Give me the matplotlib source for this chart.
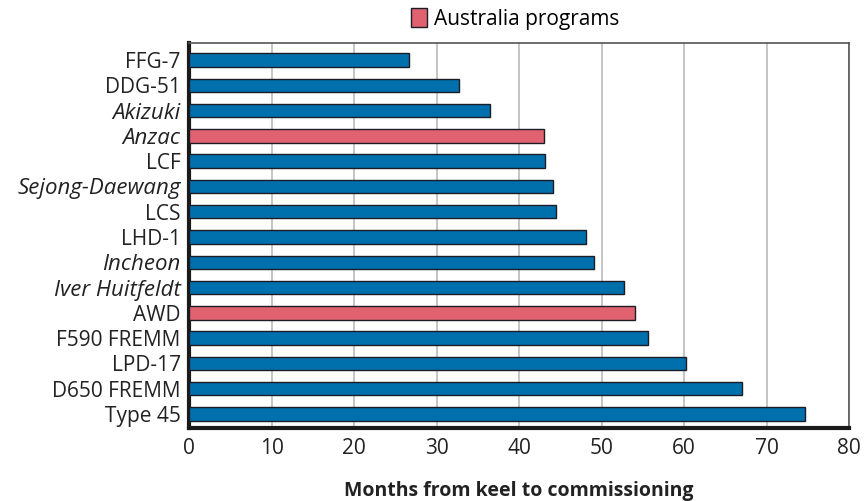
import matplotlib.pyplot as plt
from matplotlib.patches import Patch

plt.rcParams['font.family'] = ['Open Sans', 'DejaVu Sans']

programs = ["FFG-7", "DDG-51", "Akizuki", "Anzac", "LCF", "Sejong-Daewang", "LCS",
            "LHD-1", "Incheon", "Iver Huitfeldt", "AWD", "F590 FREMM", "LPD-17",
            "D650 FREMM", "Type 45"]
months = [26.7, 32.7, 36.5, 43.0, 43.2, 44.1, 44.5, 48.1, 49.1, 52.7, 54.0, 55.6,
          60.3, 67.0, 74.7]
australian = ["Anzac", "AWD"]
italic = ["Akizuki", "Anzac", "Sejong-Daewang", "Incheon", "Iver Huitfeldt"]

blue = "#0070ad"
red = "#e06270"

fig = plt.figure(figsize=(8.64, 5.01), dpi=100)
ax = fig.add_axes([189/864, 1 - 428/501, 660/864, 385/501])

colors = [red if p in australian else blue for p in programs]
ypos = list(range(len(programs)))
ax.barh(ypos, months, height=0.53, color=colors, edgecolor="#1c1c28",
        linewidth=1.0, zorder=3)

ax.set_xlim(0, 80)
ax.set_ylim(14.55, -0.67)
ax.set_xticks(range(0, 81, 10))
ax.set_yticks(ypos)
ax.set_yticklabels(programs)
ax.tick_params(axis="both", length=0, labelsize=15, colors="#222222")
ax.tick_params(axis="x", pad=7)
ax.tick_params(axis="y", pad=6)
for lab in ax.get_yticklabels():
    if lab.get_text() in italic:
        lab.set_fontstyle("italic")
        lab.set_fontsize(16)

ax.grid(axis="x", color="#bbbbbb", linewidth=1.2, zorder=0)
ax.spines["left"].set_linewidth(3)
ax.spines["bottom"].set_linewidth(3)
ax.spines["left"].set_color("#1a1a1a")
ax.spines["bottom"].set_color("#1a1a1a")
ax.spines["top"].set_linewidth(1.2)
ax.spines["right"].set_linewidth(1.2)
ax.spines["top"].set_color("#555555")
ax.spines["right"].set_color("#555555")

ax.set_xlabel("Months from keel to commissioning", fontsize=14, fontweight="bold",
              labelpad=16, color="#222222")

handle = Patch(facecolor=red, edgecolor="#1c1c28", linewidth=1.0)
fig.legend([handle], ["Australia programs"], loc="center left",
           bbox_to_anchor=(392/864, 1 - 19/501), frameon=False, fontsize=15,
           handlelength=0.8, handleheight=1.0, handletextpad=0.3)

fig.savefig("out.png", dpi=100)
